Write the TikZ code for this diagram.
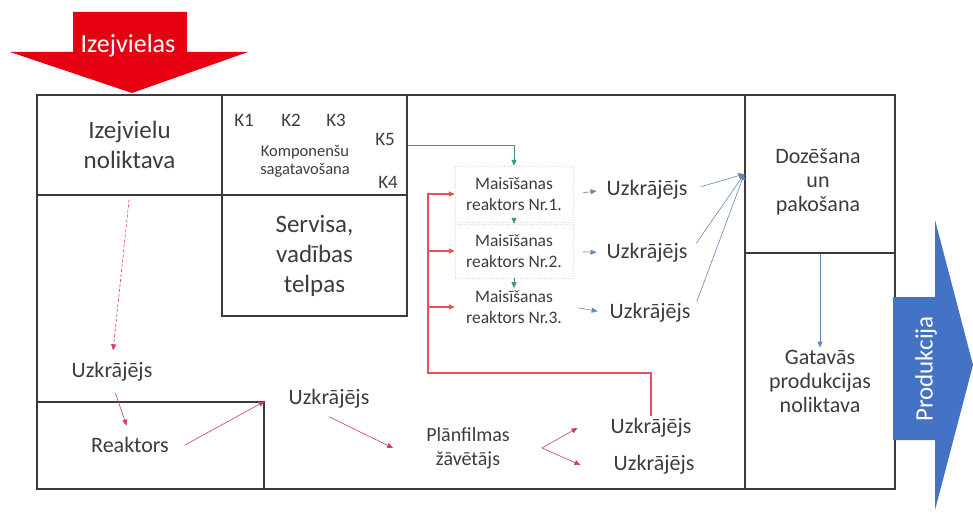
\documentclass[tikz,border=0pt]{standalone}
\usepackage{fontspec}
\setmainfont{Carlito}
\usetikzlibrary{arrows.meta}

\definecolor{ink}{HTML}{3C3C3C}
\definecolor{wallgray}{HTML}{3A3A3A}
\definecolor{izred}{HTML}{E60012}
\definecolor{prblue}{HTML}{4472C4}
\definecolor{flowred}{HTML}{C8405A}
\definecolor{busred}{HTML}{E8505E}
\definecolor{flowgreen}{HTML}{3A9A68}
\definecolor{flowblue}{HTML}{6488B8}

\newcommand\fsMain{\fontsize{22}{24}\selectfont}
\newcommand\fsBig{\fontsize{25}{30}\selectfont}
\newcommand\fsK{\fontsize{19}{22}\selectfont}
\newcommand\fsSmall{\fontsize{16.5}{18}\selectfont}
\newcommand\fsMix{\fontsize{17.5}{21}\selectfont}
\newcommand\fsDry{\fontsize{20}{24}\selectfont}

\begin{document}
\begin{tikzpicture}[x=1pt,y=-1pt,
  room/.style={draw=wallgray,line width=1.3pt,inner sep=0pt},
  txt/.style={text=ink,font=\fsMain,align=center,inner sep=2pt},
  mixbox/.style={txt,font=\fsMix,minimum width=118pt},
  tipp/.style={-{Triangle[length=6pt,width=5pt]}},
  redflow/.style={tipp,draw=flowred,line width=0.6pt},
  busflow/.style={tipp,draw=busred,line width=1.3pt},
  greenflow/.style={tipp,draw=flowgreen,line width=0.7pt},
  blueflow/.style={tipp,draw=flowblue,line width=0.6pt}]

\useasboundingbox (0,0) rectangle (973,513);

%% building plan
\draw[wallgray,line width=1.3pt] (37,95) rectangle (895,489);
\node[room,minimum width=185pt,minimum height=100pt,txt,font=\fsBig,inner sep=0pt] (izn) at (129.5,145) {Izejvielu\\noliktava};
\node[room,minimum width=185pt,minimum height=100pt] (komp) at (314.5,145) {};
\node[room,minimum width=185pt,minimum height=121pt,txt,font=\fsBig,inner sep=0pt] (serv) at (314.5,255.5) {Servisa,\\vadības\\telpas};
\node[room,minimum width=227pt,minimum height=87pt] (reakroom) at (150.5,445.5) {};
\node[room,minimum width=150pt,minimum height=158pt] (doz) at (820,174) {};
\node[room,minimum width=150pt,minimum height=236pt] (gatroom) at (820,371) {};

%% big arrows in and out
\fill[izred] (73,12) -- (187,12) -- (187,52) -- (248,52) -- (132,93) -- (10,52) -- (73,52) -- cycle;
\node[text=white,font=\fontsize{26}{30}\selectfont] (izej) at (128,46) {Izejvielas};
\fill[prblue] (893,297) -- (935,297) -- (935,220) -- (973,365) -- (935,510) -- (935,440) -- (893,440) -- cycle;
\node[text=white,font=\fontsize{25}{30}\selectfont,rotate=90] (prod) at (926,369) {Produkcija};

%% komponenti
\node[txt,font=\fsK] (k1) at (244,120) {K1};
\node[txt,font=\fsK] (k2) at (291,120) {K2};
\node[txt,font=\fsK] (k3) at (336,120) {K3};
\node[txt,font=\fsK] (k5) at (385,139) {K5};
\node[txt,font=\fsK] (k4) at (388,182) {K4};
\node[txt,font=\fsSmall] (kompt) at (305,161) {Komponenšu\\sagatavošana};

%% text nodes
\node[txt] (uzkL) at (112,372) {Uzkrājējs};
\node[txt] (reak) at (130,445) {Reaktors};
\node[txt] (uzkM) at (329,399) {Uzkrājējs};
\node[txt,font=\fsDry] (plan) at (468,448) {Plānfilmas\\žāvētājs};
\node[txt] (u4) at (651,428) {Uzkrājējs};
\node[txt] (u5) at (654,465) {Uzkrājējs};

\node[mixbox,draw=black!14,dotted,minimum height=56pt] (r1) at (514,194) {Maisīšanas\\reaktors Nr.1.};
\node[mixbox,draw=black!14,dotted,minimum height=54pt] (r2) at (514,251) {Maisīšanas\\reaktors Nr.2.};
\node[mixbox] (r3) at (514,307) {Maisīšanas\\reaktors Nr.3.};

\node[txt] (u1) at (647,190) {Uzkrājējs};
\node[txt] (u2) at (647,253) {Uzkrājējs};
\node[txt] (u3) at (650,313) {Uzkrājējs};

\node[txt] (dozt) at (818,182) {Dozēšana\\un\\pakošana};
\node[txt] (gat) at (820,381) {Gatavās\\produkcijas\\noliktava};

%% red flows
\draw[redflow,densely dashed,shorten <=4pt,shorten >=10pt] (izn.south) -- (uzkL.north);
\draw[redflow,shorten <=10pt,shorten >=10pt] (uzkL.south) -- (reak.north);
\draw[redflow] ([xshift=14pt]reak.east) -- (reakroom.north east);
\draw[redflow] ([yshift=-6pt]uzkM.south) -- ([xshift=-31pt]plan.west);
\draw[redflow] ([xshift=30pt]plan.east) -- ([xshift=-31pt]u4.west);
\draw[redflow] ([xshift=30pt]plan.east) -- ([xshift=-31pt]u5.west);

\coordinate (bus) at (428,373);
\draw[busflow] (u4.north) |- (bus) |- (r1.west);
\draw[busflow] (bus) |- (r2.west);
\draw[busflow] (bus) |- (r3.west);

%% green flows
\draw[greenflow] (komp.east) -| (r1.north);
\draw[greenflow] (r1.south) -- (r2.north);
\draw[greenflow] (r2.south) -- (r3.north);

%% blue flows
\draw[blueflow,shorten <=10pt,shorten >=8pt] (r1.east) -- (u1.west);
\draw[blueflow,shorten <=10pt,shorten >=8pt] (r2.east) -- (u2.west);
\draw[blueflow,shorten <=5pt,shorten >=10pt] (r3.east) -- (u3.west);
\draw[blueflow,shorten <=12pt] (u1.east) -- (doz.west);
\draw[blueflow,shorten <=12pt] (u2.east) -- (doz.west);
\draw[blueflow,shorten <=12pt] (u3.east) -- (doz.west);
\draw[blueflow] (doz.south) -- (gat.north);

\end{tikzpicture}
\end{document}
